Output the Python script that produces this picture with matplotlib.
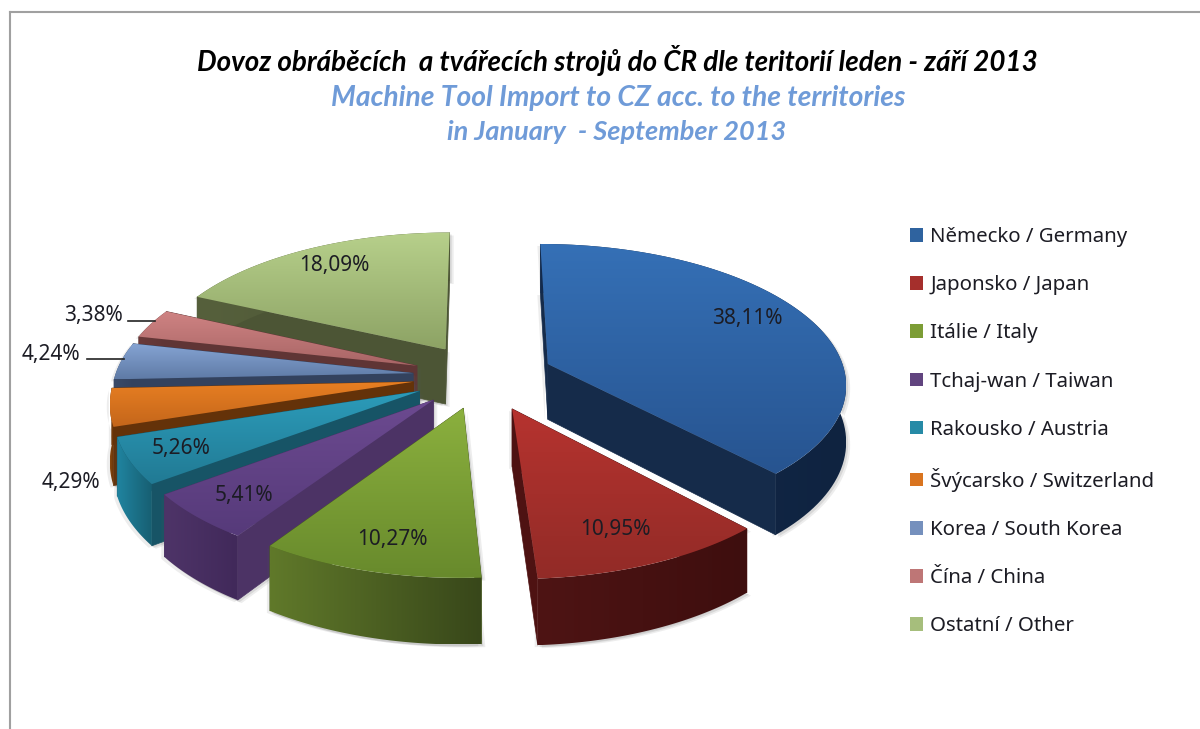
import matplotlib
matplotlib.use('Agg')
import matplotlib.pyplot as plt
from matplotlib.colors import LinearSegmentedColormap
from matplotlib.patches import Patch, Polygon
import numpy as np

labels = ['Německo / Germany', 'Japonsko / Japan', 'Itálie / Italy', 'Tchaj-wan / Taiwan',
          'Rakousko / Austria', 'Švýcarsko / Switzerland', 'Korea / South Korea',
          'Čína / China', 'Ostatní / Other']
values = [38.11, 10.95, 10.27, 5.41, 5.26, 4.29, 4.24, 3.38, 18.09]
pct_labels = ['38,11%', '10,95%', '10,27%', '5,41%', '5,26%', '4,29%', '4,24%', '3,38%', '18,09%']

top_light = ['#3570B6', '#B6332F', '#8BB03E', '#6C4A90', '#2C9CBA', '#E87F22', '#86A4D4', '#CF8383', '#B7D08B']
top_dark = ['#275490', '#922B27', '#688A2C', '#563A7A', '#217A94', '#C4661B', '#5F7BA6', '#A86565', '#8DA365']
side_cut = ['#152B4A', '#4E1212', '#4A5F1E', '#4C3365', '#175466', '#643209', '#33425E', '#5F3535', '#4C5535']
wall_left = ['#142B4D', '#4E1414', '#60792A', '#4E3468', '#2084A0', '#8A4A10', '#3A4A68', '#6A3A3A', '#56603C']
wall_right = ['#0F2340', '#3E0E0E', '#38471A', '#41295A', '#175F72', '#643209', '#33425E', '#5F3535', '#4C5535']
legend_colors = ['#2F639F', '#A52F2C', '#7C9D35', '#61447F', '#268AA6', '#D9741F', '#7590BD', '#BE7676', '#A6BE7C']

label_pos = [(747, 318), (615, 529), (392, 539), (244, 495), (181, 448), (71, 482), (51, 354), (93, 315), (334, 265)]
leaders = [((87, 124), (359, 359)), ((128, 155), (321, 321))]

# pie geometry in pixels
cx, cy = 482, 376
R = 298
tilt = 0.465
persp = 0.13
explode = [0.24, 0.25, 0.233, 0.233, 0.233, 0.233, 0.233, 0.233, 0.233]
depth = 56


def project(x, y, z=0.0):
    s = 1 / (1 - persp * y)
    return cx + R * x * s, cy + R * tilt * y * s + depth * z * s


def grad_fill(ax, pts, c1, c2, vertical, z):
    cmap = LinearSegmentedColormap.from_list('g', [c1, c2])
    ramp = np.linspace(0, 1, 128)
    arr = ramp[:, None] if vertical else ramp[None, :]
    xs, ys = pts[:, 0], pts[:, 1]
    im = ax.imshow(arr, cmap=cmap, vmin=0, vmax=1, aspect='auto', zorder=z, interpolation='bilinear',
                   extent=(xs.min(), xs.max(), ys.max(), ys.min()))
    clip = Polygon(pts, closed=True, transform=ax.transData, fc='none', ec='none')
    im.set_clip_path(clip)


fig = plt.figure(figsize=(12, 7.29), dpi=100)
ax = fig.add_axes([0, 0, 1, 1])

edges = np.cumsum([0] + values) / sum(values) * 2 * np.pi
mids = (edges[:-1] + edges[1:]) / 2

# back slices first
order = np.argsort(-np.cos(mids))
z = 2
for i in order:
    ex, ey = explode[i] * np.sin(mids[i]), -explode[i] * np.cos(mids[i])
    t = np.linspace(edges[i], edges[i + 1], 80)
    ax_x = ex + np.sin(t)
    ax_y = ey - np.cos(t)
    rim = np.column_stack(project(ax_x, ax_y))
    rim_low = np.column_stack(project(ax_x, ax_y, 1.0))
    apex = np.array(project(ex, ey))
    apex_low = np.array(project(ex, ey, 1.0))
    top = np.vstack([apex, rim])

    # soft shadow
    outline = np.vstack([apex, rim, rim_low[::-1], apex_low])
    for dx, dy, a in [(4, 3, 0.10), (2, 2, 0.14), (-3, 2, 0.10)]:
        ax.add_patch(Polygon(outline + [dx, dy], closed=True, fc='#555555', ec='none', alpha=a, zorder=z))
    z += 1

    # cut faces, outer wall, top
    for a, b in [(rim[0], rim_low[0]), (rim[-1], rim_low[-1])]:
        ax.add_patch(Polygon([apex, a, b, apex_low], closed=True, fc=side_cut[i], ec=side_cut[i], lw=0.5, zorder=z))
    z += 1
    grad_fill(ax, np.vstack([rim, rim_low[::-1]]), wall_left[i], wall_right[i], False, z)
    z += 1
    grad_fill(ax, top, top_light[i], top_dark[i], True, z)
    z += 1

for txt, (x, y) in zip(pct_labels, label_pos):
    ax.text(x, y, txt, ha='center', va='center', fontsize=15, family='Noto Sans', color='#1c1c24', zorder=200)
for xs, ys in leaders:
    ax.plot(xs, ys, color='#222222', lw=1.2, zorder=200)

# chart frame, only top and left are in the crop
ax.plot([10, 1200], [12, 12], color='#a0a0a0', lw=1.5, zorder=1)
ax.plot([10, 10], [12, 729], color='#a0a0a0', lw=1.5, zorder=1)

ax.text(617.5, 60, 'Dovoz obráběcích  a tvářecích strojů do ČR dle teritorií leden - září 2013', ha='center', va='center',
        fontsize=19.95, family='Lato', weight='bold', style='italic', color='black')
ax.text(618, 98, 'Machine Tool Import to CZ acc. to the territories', ha='center', va='center',
        fontsize=20.3, family='Lato', weight='bold', style='italic', color='#6F9BD8')
ax.text(617, 132, 'in January  - September 2013', ha='center', va='center',
        fontsize=19.5, family='Lato', weight='bold', style='italic', color='#6F9BD8')

handles = [Patch(fc=c, ec='none') for c in legend_colors]
ax.legend(handles, labels, loc='upper left', bbox_to_anchor=(910, 227), bbox_transform=ax.transData,
          frameon=False, handlelength=0.64, handleheight=0.64, handletextpad=0.36, labelspacing=1.38,
          prop={'family': 'Noto Sans', 'size': 14.7}, labelcolor='#1c1c24', borderpad=0, borderaxespad=0)

ax.set_xlim(0, 1200)
ax.set_ylim(729, 0)
ax.axis('off')
fig.savefig('out.png', dpi=100)
